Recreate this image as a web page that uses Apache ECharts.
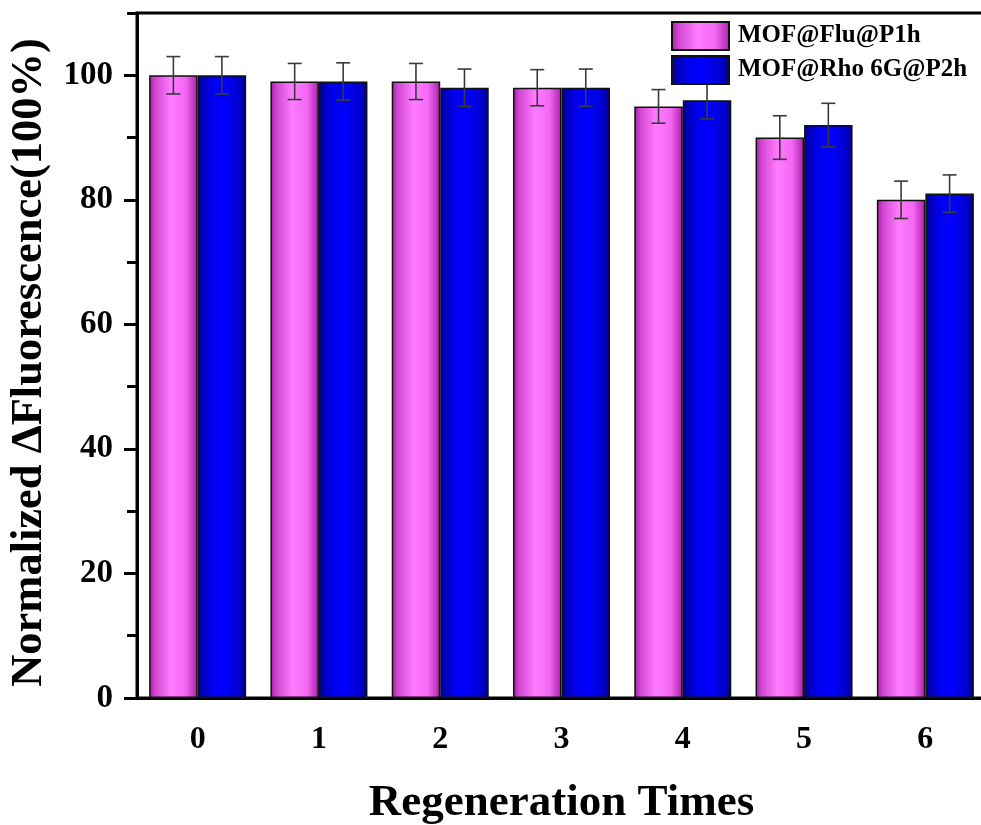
<!DOCTYPE html>
<html>
<head>
<meta charset="utf-8">
<script src="https://cdn.jsdelivr.net/npm/echarts@6/dist/echarts.min.js"></script>
<style>
  html, body { margin: 0; padding: 0; background: #ffffff; overflow: hidden; }
  #chart { width: 981px; height: 825px; }
</style>
</head>
<body>
<div id="chart"></div>
<script>
// Regeneration cycles on the x axis
const categories = ['0', '1', '2', '3', '4', '5', '6'];
// Normalized fluorescence change (%) and standard deviations
const seriesNames = ['MOF@Flu@P1h', 'MOF@Rho 6G@P2h'];
const fluValues = [100, 99, 99, 98, 95, 90, 80];
const fluErrors = [3, 2.9, 2.9, 2.9, 2.7, 3.5, 3];
const rhoValues = [100, 99, 98, 98, 96, 92, 81];
const rhoErrors = [3, 3, 3, 3, 3, 3.5, 3];
const yTicks = [0, 20, 40, 60, 80, 100];

const FONT = '"Liberation Serif", "Times New Roman", serif';

// Cylinder-like horizontal shading for each bar
const pinkFill = new echarts.graphic.LinearGradient(0, 0, 1, 0, [
  { offset: 0, color: '#a01ea0' },
  { offset: 0.12, color: '#d045d0' },
  { offset: 0.45, color: '#ff7cff' },
  { offset: 0.75, color: '#f468f4' },
  { offset: 1, color: '#a81fa8' }
]);
const blueFill = new echarts.graphic.LinearGradient(0, 0, 1, 0, [
  { offset: 0, color: '#00009a' },
  { offset: 0.3, color: '#0000f0' },
  { offset: 0.55, color: '#0000ff' },
  { offset: 0.85, color: '#0000d0' },
  { offset: 1, color: '#000088' }
]);

const BAR_GAP_RATIO = 0.8; // fraction of the band used by the two bars

function errorBarRenderer(values, errors, side) {
  return function (params, api) {
    const i = api.value(0);
    const v = values[i];
    const e = errors[i];
    const band = api.size([1, 0])[0];
    const bw = band * BAR_GAP_RATIO / 2;
    const center = api.coord([i, v]);
    const x = center[0] + side * bw / 2;
    const top = api.coord([i, v + e])[1];
    const bot = api.coord([i, v - e])[1];
    const cap = 7;
    const style = { stroke: '#3a3a3a', lineWidth: 1.6 };
    return {
      type: 'group',
      children: [
        { type: 'line', shape: { x1: x, y1: top, x2: x, y2: bot }, style: style },
        { type: 'line', shape: { x1: x - cap, y1: top, x2: x + cap, y2: top }, style: style },
        { type: 'line', shape: { x1: x - cap, y1: bot, x2: x + cap, y2: bot }, style: style }
      ]
    };
  };
}

const idx = categories.map((c, i) => [i]);

const option = {
  backgroundColor: '#ffffff',
  animation: false,
  grid: {
    left: 137, top: 13, width: 849, height: 685,
    outerBoundsMode: 'none',
    show: true, borderColor: '#000', borderWidth: 3, backgroundColor: 'transparent'
  },
  legend: {
    orient: 'vertical',
    left: 671, top: 21,
    itemWidth: 57, itemHeight: 28, itemGap: 4,
    padding: 0,
    backgroundColor: '#ffffff',
    icon: 'rect',
    data: seriesNames,
    textStyle: { fontFamily: FONT, fontWeight: 'bold', fontSize: 25, color: '#000', padding: [0, 0, 0, 4] }
  },
  xAxis: [
    {
      type: 'category',
      data: categories,
      position: 'bottom',
      axisLine: { lineStyle: { color: '#000', width: 3 } },
      axisTick: { alignWithLabel: true, length: 14, lineStyle: { color: '#000', width: 3 } },
      axisLabel: { fontFamily: FONT, fontWeight: 'bold', fontSize: 32, color: '#000', margin: 26 },
      name: 'Regeneration Times',
      nameLocation: 'middle',
      nameGap: 83,
      nameTextStyle: { fontFamily: FONT, fontWeight: 'bold', fontSize: 45, color: '#000' }
    },
    {
      // boundary ticks between categories
      type: 'category',
      data: categories,
      position: 'bottom',
      axisLine: { show: false },
      axisTick: { length: 7, lineStyle: { color: '#000', width: 3 } },
      axisLabel: { show: false }
    }
  ],
  yAxis: [
    {
      type: 'value',
      min: 0, max: 110, interval: 20,
      position: 'left',
      axisLine: { show: true, lineStyle: { color: '#000', width: 3 } },
      axisTick: { show: true, length: 13, lineStyle: { color: '#000', width: 3 } },
      splitLine: { show: false },
      axisLabel: {
        fontFamily: FONT, fontWeight: 'bold', fontSize: 33, color: '#000', margin: 24,
        showMaxLabel: false,
        formatter: v => (yTicks.indexOf(v) >= 0 ? String(v) : '')
      },
      name: 'Normalized \u0394Fluorescence(100%)',
      nameLocation: 'middle',
      nameGap: 85,
      nameTextStyle: { fontFamily: FONT, fontWeight: 'bold', fontSize: 44.5, color: '#000', padding: [0, 14, 0, 0] }
    },
    {
      // minor ticks every 10
      type: 'value',
      min: 0, max: 110, interval: 10,
      position: 'left',
      axisLine: { show: false },
      axisTick: { show: true, length: 10, lineStyle: { color: '#000', width: 3 } },
      splitLine: { show: false },
      axisLabel: { show: false }
    }
  ],
  series: [
    {
      name: seriesNames[0],
      type: 'bar',
      data: fluValues,
      barGap: '0%',
      barCategoryGap: '20%',
      itemStyle: { color: pinkFill, borderColor: '#111', borderWidth: 1.5 }
    },
    {
      name: seriesNames[1],
      type: 'bar',
      data: rhoValues,
      barGap: '0%',
      barCategoryGap: '20%',
      itemStyle: { color: blueFill, borderColor: '#111', borderWidth: 1.5 }
    },
    {
      type: 'custom',
      name: 'fluErr',
      data: idx,
      renderItem: errorBarRenderer(fluValues, fluErrors, -1),
      z: 3,
      silent: true
    },
    {
      type: 'custom',
      name: 'rhoErr',
      data: idx,
      renderItem: errorBarRenderer(rhoValues, rhoErrors, 1),
      z: 3,
      silent: true
    }
  ]
};

const chart = echarts.init(document.getElementById('chart'), null, { renderer: 'canvas' });
chart.setOption(option);
</script>
</body>
</html>
